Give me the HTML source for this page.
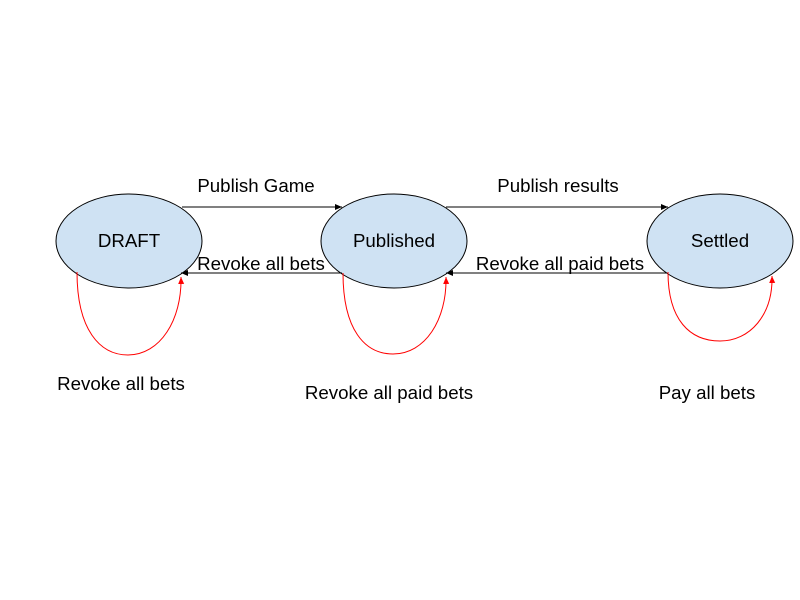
<!DOCTYPE html>
<html><head><meta charset="utf-8"><style>
html,body{margin:0;padding:0;background:#fff;}
svg{display:block;}
text{font-family:"Liberation Sans",Arial,sans-serif;font-size:18.7px;fill:#000;}
</style></head><body>
<svg width="800" height="600" viewBox="0 0 800 600" xmlns="http://www.w3.org/2000/svg">
<defs>
<marker id="ab" markerWidth="8" markerHeight="8" refX="7" refY="4" orient="auto" markerUnits="userSpaceOnUse"><path d="M0,1 L7,4 L0,7 Z" fill="#000"/></marker>
<marker id="ar" markerWidth="8" markerHeight="8" refX="7" refY="4" orient="auto" markerUnits="userSpaceOnUse"><path d="M0,1 L7,4 L0,7 Z" fill="#f00"/></marker>
</defs>
<ellipse cx="129" cy="241" rx="73" ry="47" fill="#cfe2f3" stroke="#000" stroke-width="1"/>
<ellipse cx="394" cy="241" rx="73" ry="47" fill="#cfe2f3" stroke="#000" stroke-width="1"/>
<ellipse cx="720" cy="241" rx="73" ry="47" fill="#cfe2f3" stroke="#000" stroke-width="1"/>
<text x="129" y="247" text-anchor="middle">DRAFT</text>
<text x="394" y="247" text-anchor="middle">Published</text>
<text x="720" y="247" text-anchor="middle">Settled</text>

<line x1="182" y1="207" x2="342" y2="207" stroke="#000" marker-end="url(#ab)"/>
<line x1="446" y1="207" x2="668" y2="207" stroke="#000" marker-end="url(#ab)"/>
<line x1="342" y1="273" x2="181" y2="273" stroke="#000" marker-end="url(#ab)"/>
<line x1="667" y1="273" x2="446" y2="273" stroke="#000" marker-end="url(#ab)"/>

<text x="256" y="192" text-anchor="middle">Publish Game</text>
<text x="558" y="192" text-anchor="middle">Publish results</text>
<text x="261" y="270" text-anchor="middle">Revoke all bets</text>
<text x="560" y="270" text-anchor="middle">Revoke all paid bets</text>

<path d="M77,272 C77,330 100,355 128,355 C160,355 182,320 181,277" fill="none" stroke="#f00" marker-end="url(#ar)"/>
<path d="M343,273 C343,330 365,354 393,354 C425,354 447,320 446,277" fill="none" stroke="#f00" marker-end="url(#ar)"/>
<path d="M668,272 C668,320 690,341 720,341 C750,341 773,315 772,276" fill="none" stroke="#f00" marker-end="url(#ar)"/>

<text x="121" y="390" text-anchor="middle">Revoke all bets</text>
<text x="389" y="399" text-anchor="middle">Revoke all paid bets</text>
<text x="707" y="399" text-anchor="middle">Pay all bets</text>
</svg>
</body></html>
